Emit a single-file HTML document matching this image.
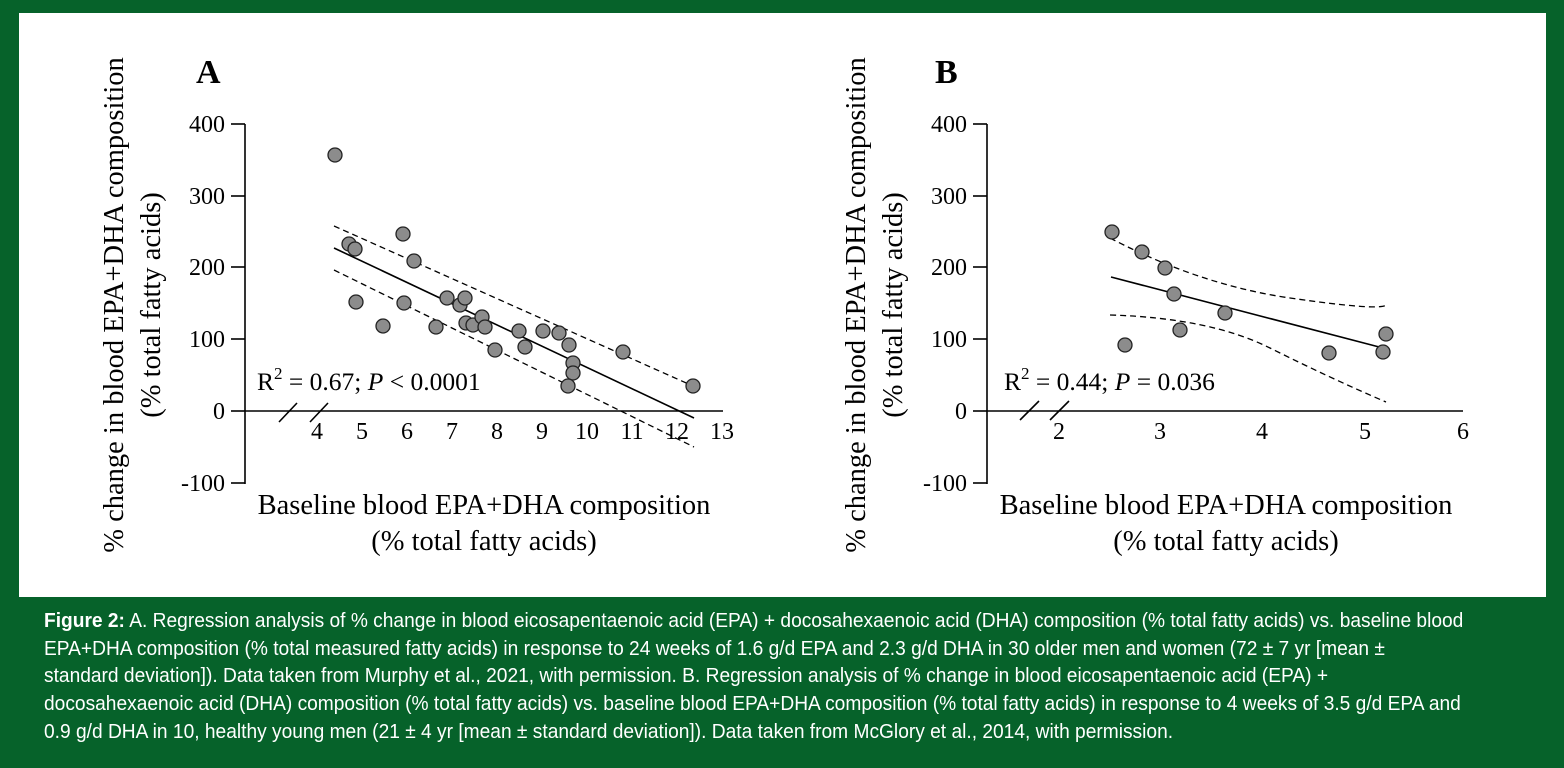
<!DOCTYPE html>
<html><head><meta charset="utf-8"><style>
html,body{margin:0;padding:0;}
body{width:1564px;height:768px;background:#06622a;position:relative;overflow:hidden;}
#panel{position:absolute;left:19px;top:13px;width:1527px;height:584px;background:#fff;}
svg{position:absolute;left:0;top:0;}
#cap{position:absolute;left:44px;top:607px;color:#fff;font-family:"Liberation Sans Narrow","Liberation Sans",sans-serif;font-size:20.5px;line-height:27.7px;white-space:nowrap;transform-origin:0 0;transform:scaleX(0.935);}
</style></head><body>
<div id="panel"></div>
<svg width="1564" height="768" viewBox="0 0 1564 768" font-family="Liberation Serif, serif" fill="#000">
<!-- Panel A -->
<text x="196" y="83" font-size="34" font-weight="bold">A</text>
<g stroke="#000" stroke-width="1.6" fill="none">
<line x1="245" y1="124" x2="245" y2="484"/>
<line x1="231" y1="124" x2="245" y2="124"/>
<line x1="231" y1="196" x2="245" y2="196"/>
<line x1="231" y1="267" x2="245" y2="267"/>
<line x1="231" y1="339" x2="245" y2="339"/>
<line x1="231" y1="411" x2="245" y2="411"/>
<line x1="231" y1="483" x2="245" y2="483"/>
<line x1="245" y1="411" x2="723" y2="411"/>
<line x1="279" y1="422" x2="297" y2="403"/>
<line x1="310" y1="422" x2="328" y2="403"/>
<line x1="334" y1="248" x2="694" y2="418"/>
<g stroke-dasharray="6,4" stroke-width="1.3">
<line x1="334" y1="226" x2="693" y2="386"/>
<line x1="334" y1="270" x2="694" y2="447"/>
</g>
</g>
<g font-size="24" text-anchor="end">
<text x="225" y="132">400</text><text x="225" y="204">300</text><text x="225" y="275">200</text>
<text x="225" y="347">100</text><text x="225" y="419">0</text><text x="225" y="491">-100</text>
</g>
<g font-size="24" text-anchor="middle">
<text x="317" y="439">4</text><text x="362" y="439">5</text><text x="407" y="439">6</text><text x="452" y="439">7</text>
<text x="497" y="439">8</text><text x="542" y="439">9</text><text x="587" y="439">10</text><text x="632" y="439">11</text>
<text x="677" y="439">12</text><text x="722" y="439">13</text>
</g>
<text x="257" y="390" font-size="25.5">R<tspan font-size="17" dy="-11">2</tspan><tspan dy="11"> = 0.67; </tspan><tspan font-style="italic">P</tspan> &lt; 0.0001</text>
<g fill="#8c8c8c" stroke="#222" stroke-width="1.3">
<circle cx="335" cy="155" r="7"/><circle cx="349" cy="244" r="7"/><circle cx="355" cy="249" r="7"/><circle cx="356" cy="302" r="7"/>
<circle cx="383" cy="326" r="7"/><circle cx="403" cy="234" r="7"/><circle cx="404" cy="303" r="7"/><circle cx="414" cy="261" r="7"/>
<circle cx="436" cy="327" r="7"/><circle cx="447" cy="298" r="7"/><circle cx="460" cy="305" r="7"/><circle cx="465" cy="298" r="7"/>
<circle cx="466" cy="323" r="7"/><circle cx="473" cy="325" r="7"/><circle cx="482" cy="317" r="7"/><circle cx="485" cy="327" r="7"/>
<circle cx="495" cy="350" r="7"/><circle cx="519" cy="331" r="7"/><circle cx="525" cy="347" r="7"/><circle cx="543" cy="331" r="7"/>
<circle cx="559" cy="333" r="7"/><circle cx="569" cy="345" r="7"/><circle cx="573" cy="363" r="7"/><circle cx="573" cy="373" r="7"/>
<circle cx="568" cy="386" r="7"/><circle cx="623" cy="352" r="7"/><circle cx="693" cy="386" r="7"/>
</g>
<g font-size="28.5" text-anchor="middle">
<text transform="translate(123,305) rotate(-90)">% change in blood EPA+DHA composition</text>
<text transform="translate(160,305) rotate(-90)">(% total fatty acids)</text>
<text x="484" y="514">Baseline blood EPA+DHA composition</text>
<text x="484" y="550">(% total fatty acids)</text>
</g>

<!-- Panel B -->
<text x="935" y="83" font-size="34" font-weight="bold">B</text>
<g stroke="#000" stroke-width="1.6" fill="none">
<line x1="987" y1="124" x2="987" y2="484"/>
<line x1="973" y1="124" x2="987" y2="124"/>
<line x1="973" y1="196" x2="987" y2="196"/>
<line x1="973" y1="267" x2="987" y2="267"/>
<line x1="973" y1="339" x2="987" y2="339"/>
<line x1="973" y1="411" x2="987" y2="411"/>
<line x1="973" y1="483" x2="987" y2="483"/>
<line x1="987" y1="411" x2="1463" y2="411"/>
<line x1="1020" y1="420" x2="1039" y2="401"/>
<line x1="1050" y1="420" x2="1069" y2="401"/>
<line x1="1111" y1="277" x2="1383" y2="348"/>
<g stroke-dasharray="6,4" stroke-width="1.3">
<path d="M1110,238 Q1200,285 1290,298 T1386,305"/>
<path d="M1110,315 Q1210,318 1270,348 T1386,402"/>
</g>
</g>
<g font-size="24" text-anchor="end">
<text x="967" y="132">400</text><text x="967" y="204">300</text><text x="967" y="275">200</text>
<text x="967" y="347">100</text><text x="967" y="419">0</text><text x="967" y="491">-100</text>
</g>
<g font-size="24" text-anchor="middle">
<text x="1059" y="439">2</text><text x="1160" y="439">3</text><text x="1262" y="439">4</text>
<text x="1365" y="439">5</text><text x="1463" y="439">6</text>
</g>
<text x="1004" y="390" font-size="25.5">R<tspan font-size="17" dy="-11">2</tspan><tspan dy="11"> = 0.44; </tspan><tspan font-style="italic">P</tspan> = 0.036</text>
<g fill="#8c8c8c" stroke="#222" stroke-width="1.3">
<circle cx="1112" cy="232" r="7"/><circle cx="1142" cy="252" r="7"/><circle cx="1165" cy="268" r="7"/>
<circle cx="1174" cy="294" r="7"/><circle cx="1225" cy="313" r="7"/><circle cx="1180" cy="330" r="7"/>
<circle cx="1125" cy="345" r="7"/><circle cx="1329" cy="353" r="7"/><circle cx="1383" cy="352" r="7"/>
<circle cx="1386" cy="334" r="7"/>
</g>
<g font-size="28.5" text-anchor="middle">
<text transform="translate(865,305) rotate(-90)">% change in blood EPA+DHA composition</text>
<text transform="translate(902,305) rotate(-90)">(% total fatty acids)</text>
<text x="1226" y="514">Baseline blood EPA+DHA composition</text>
<text x="1226" y="550">(% total fatty acids)</text>
</g>
</svg>
<div id="cap"><b>Figure 2:</b> A. Regression analysis of % change in blood eicosapentaenoic acid (EPA) + docosahexaenoic acid (DHA) composition (% total fatty acids) vs. baseline blood<br>EPA+DHA composition (% total measured fatty acids) in response to 24 weeks of 1.6 g/d EPA and 2.3 g/d DHA in 30 older men and women (72 ± 7 yr [mean ±<br>standard deviation]). Data taken from Murphy et al., 2021, with permission. B. Regression analysis of % change in blood eicosapentaenoic acid (EPA) +<br>docosahexaenoic acid (DHA) composition (% total fatty acids) vs. baseline blood EPA+DHA composition (% total fatty acids) in response to 4 weeks of 3.5 g/d EPA and<br>0.9 g/d DHA in 10, healthy young men (21 ± 4 yr [mean ± standard deviation]). Data taken from McGlory et al., 2014, with permission.</div>
</body></html>
